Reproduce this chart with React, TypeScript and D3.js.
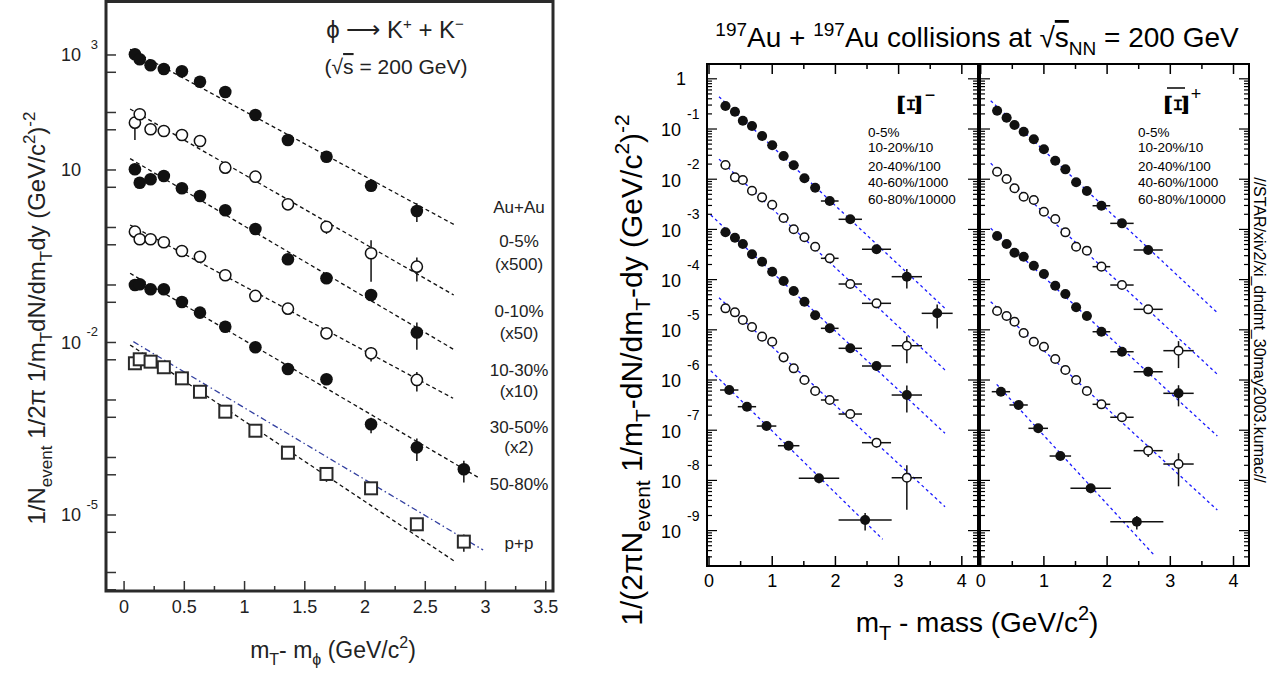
import React from "react";
import * as d3 from "d3";

const FONT = "'Liberation Sans', Arial, Helvetica, sans-serif";

// ---------------- phi -> K+ + K- (left figure) ----------------
const phiMtX = [0.09, 0.13, 0.22, 0.33, 0.48, 0.63, 0.84, 1.09, 1.36, 1.68, 2.05, 2.43, 2.82];
const phiAuAu0to5 = [1028, 841, 662, 571, 521, 343, 227, 90.6, 33.3, 17.0, 5.33, 1.94];
const phiAuAu0to10 = [66.5, 93.1, 51.1, 47.6, 40.6, 31.9, 10.96, 7.64, 2.53, 1.03, 0.356, 0.208];
const phiAuAu10to30 = [10.3, 6.01, 6.88, 7.87, 4.81, 3.53, 1.99, 0.942, 0.28, 0.131, 0.067, 0.0149];
const phiAuAu30to50 = [0.845, 0.624, 0.624, 0.553, 0.39, 0.31, 0.1475, 0.0644, 0.0387, 0.01445, 0.00649, 0.00223];
const phiAuAu50to80 = [0.1, 0.1028, 0.0841, 0.0841, 0.0506, 0.033, 0.0188, 0.00826, 0.00346, 0.00229, 0.000378, 0.00015, 0.0000624];
const phiPP = [0.00435, 0.0051, 0.00464, 0.00371, 0.00238, 0.00139, 0.000626, 0.000292, 0.000121, 0.0000517, 0.0000291, 0.00000689, 0.00000344];

const phiErr0to5 = [0.05, 0.05, 0.05, 0.05, 0.05, 0.05, 0.06, 0.08, 0.1, 0.15, 0.2, 0.36];
const phiErr0to10 = [0.5, 0.15, 0.08, 0.08, 0.08, 0.08, 0.1, 0.12, 0.15, 0.25, 0.68, 0.45];
const phiErr10to30 = [0.1, 0.1, 0.08, 0.08, 0.08, 0.08, 0.1, 0.1, 0.15, 0.15, 0.2, 0.5];
const phiErr30to50 = [0.1, 0.08, 0.08, 0.08, 0.08, 0.1, 0.1, 0.12, 0.15, 0.2, 0.28, 0.37];
const phiErr50to80 = [0.1, 0.1, 0.1, 0.1, 0.1, 0.1, 0.1, 0.12, 0.15, 0.2, 0.3, 0.42, 0.41];
const phiErrPP = [0.05, 0.05, 0.05, 0.05, 0.05, 0.05, 0.06, 0.08, 0.1, 0.27, 0.1, 0.15, 0.33];

// exponential fits: [x start, x end], [value start, value end]
const phiFitX = [[0.05, 2.745], [0.05, 2.736], [0.05, 2.753], [0.05, 2.731], [0.05, 2.952], [0.05, 2.736]];
const phiFitY = [[1256, 1.104], [115.1, 0.067], [15.74, 0.00721], [1.104, 0.00107], [0.1596, 4.345e-5], [0.00906, 1.603e-6]];
const phiPPFitX = [0.077, 2.98];
const phiPPFitY = [0.01033, 2.46e-6];

const phiXTicks = [0, 0.5, 1, 1.5, 2, 2.5, 3, 3.5];
const phiYLabelExp = [3, 1, -2, -5];
const phiSideLabels = ["Au+Au", "0-5%", "(x500)", "0-10%", "(x50)", "10-30%", "(x10)", "30-50%", "(x2)", "50-80%", "p+p"];

// ---------------- Xi spectra (right figure) ----------------
const xiMtX = [0.26, 0.41, 0.535, 0.68, 0.84, 1.0, 1.18, 1.34, 1.51, 1.68, 1.91, 2.235, 2.65, 3.13, 3.61];
const xiMtXErr = [0.075, 0.075, 0.075, 0.075, 0.075, 0.075, 0.075, 0.075, 0.075, 0.075, 0.14, 0.185, 0.23, 0.24, 0.245];
const xiPeriphX = [0.32, 0.6, 0.91, 1.26, 1.74, 2.47];
const xiPeriphXErr = [0.145, 0.145, 0.155, 0.17, 0.32, 0.42];

const xiM0to5 = [0.287, 0.221, 0.146, 0.1148, 0.0726, 0.0473, 0.029, 0.0189, 0.01042, 0.00678, 0.00368, 0.00159, 0.000402, 0.0001143, 0.0000213];
const xiM10to20 = [0.01919, 0.01091, 0.00964, 0.0059, 0.004355, 0.003105, 0.001687, 0.001005, 0.000697, 0.000452, 0.0002655, 8.17e-5, 3.37e-5, 4.82e-6];
const xiM20to40 = [0.000875, 0.000684, 0.000512, 0.000319, 0.0002275, 0.0001436, 9.38e-5, 5.93e-5, 3.63e-5, 1.945e-5, 1.07e-5, 4.28e-6, 1.9e-6, 5.02e-7];
const xiM40to60 = [2.68e-5, 2.23e-5, 1.57e-5, 1.14e-5, 7.3e-6, 5.79e-6, 2.83e-6, 1.71e-6, 1.0e-6, 6.04e-7, 4.0e-7, 2.1e-7, 5.64e-8, 1.13e-8];
const xiM60to80 = [6.32e-7, 2.94e-7, 1.21e-7, 4.91e-8, 1.1e-8, 1.63e-9];

const xiMErr0to5 = [0.05, 0.05, 0.05, 0.05, 0.05, 0.05, 0.05, 0.05, 0.05, 0.05, 0.06, 0.08, 0.15, 0.42, 0.5];
const xiMErr10to20 = [0.05, 0.05, 0.05, 0.05, 0.05, 0.05, 0.05, 0.05, 0.05, 0.05, 0.06, 0.1, 0.2, 0.55];
const xiMErr20to40 = [0.05, 0.05, 0.05, 0.05, 0.05, 0.05, 0.05, 0.05, 0.05, 0.05, 0.06, 0.1, 0.2, 0.55];
const xiMErr40to60 = [0.05, 0.05, 0.05, 0.05, 0.05, 0.05, 0.05, 0.05, 0.05, 0.05, 0.08, 0.12, 0.2, 0.77];
const xiMErr60to80 = [0.08, 0.08, 0.1, 0.12, 0.2, 0.38];

const xiP0to5 = [0.232, 0.168, 0.12, 0.0883, 0.0624, 0.0394, 0.0234, 0.0157, 0.00867, 0.00582, 0.00296, 0.00132, 0.000389];
const xiP10to20 = [0.0141, 0.0101, 0.00659, 0.00448, 0.00385, 0.00225, 0.00161, 0.000875, 0.000452, 0.000377, 0.000181, 7.8e-5, 2.56e-5, 3.84e-6];
const xiP20to40 = [7.4e-4, 5.12e-4, 3.44e-4, 2.86e-4, 1.89e-4, 1.29e-4, 7.55e-5, 5.16e-5, 2.81e-5, 1.88e-5, 9.16e-6, 3.66e-6, 1.46e-6, 5.43e-7];
const xiP40to60 = [2.37e-5, 1.88e-5, 1.45e-5, 8.63e-6, 5.79e-6, 4.6e-6, 2.62e-6, 1.58e-6, 1.0e-6, 6.04e-7, 3.28e-7, 1.81e-7, 3.91e-8, 2.12e-8];
const xiP60to80 = [5.85e-7, 3.18e-7, 1.09e-7, 3.06e-8, 6.97e-9, 1.5e-9];

const xiPErr0to5 = [0.05, 0.05, 0.05, 0.05, 0.05, 0.05, 0.05, 0.05, 0.05, 0.05, 0.06, 0.08, 0.15];
const xiPErr10to20 = [0.05, 0.05, 0.05, 0.05, 0.05, 0.05, 0.05, 0.05, 0.05, 0.05, 0.06, 0.1, 0.15, 0.55];
const xiPErr20to40 = [0.05, 0.05, 0.05, 0.05, 0.05, 0.05, 0.05, 0.05, 0.05, 0.05, 0.06, 0.1, 0.15, 0.45];
const xiPErr40to60 = [0.05, 0.05, 0.05, 0.05, 0.05, 0.05, 0.05, 0.05, 0.05, 0.05, 0.08, 0.12, 0.25, 0.64];
const xiPErr60to80 = [0.08, 0.08, 0.1, 0.12, 0.2, 0.3];

const xiMFitX = [[0.158, 3.734], [0.158, 3.734], [0.027, 3.734], [0.158, 3.734], [0.027, 2.748]];
const xiMFitY = [[0.44, 2.68e-5], [0.0251, 1.585e-6], [0.001936, 8.67e-8], [4.36e-5, 2.99e-9], [1.53e-6, 6.71e-10]];
const xiPFitX = [[0.158, 3.744], [0.158, 3.744], [0.158, 3.744], [0.158, 3.744], [0.253, 2.742]];
const xiPFitY = [[0.366, 2.19e-5], [0.0207, 1.3e-6], [0.00105, 7.66e-8], [3.63e-5, 2.57e-9], [8.2e-7, 3.27e-10]];

const xiLegend = ["0-5%", "10-20%/10", "20-40%/100", "40-60%/1000", "60-80%/10000"];
const xiXTicks = [0, 1, 2, 3, 4];
const xiYExp = [0, -1, -2, -3, -4, -5, -6, -7, -8, -9];

// ---------------- scales ----------------
const xPhi = d3.scaleLinear().domain([-0.15, 3.56]).range([106, 553]);
const yPhi = d3.scaleLog().domain([Math.pow(10, -6.322), Math.pow(10, 3.93)]).range([591, 1.5]);
const xXiL = d3.scaleLinear().domain([-0.032, 4.256]).range([707, 978]);
const xXiR = d3.scaleLinear().domain([-0.011, 4.245]).range([980, 1249]);
const yXi = d3.scaleLog().domain([Math.pow(10, -9.705), Math.pow(10, 0.295)]).range([566, 64]);

type Mk = "fill" | "open" | "square";

function Marker({ cx, cy, type, r }: { cx: number; cy: number; type: Mk; r: number }) {
  if (type === "square")
    return <rect x={cx - r} y={cy - r} width={2 * r} height={2 * r} fill="white" stroke="#2a2a2a" strokeWidth={2} />;
  if (type === "open") return <circle cx={cx} cy={cy} r={r - 0.7} fill="white" stroke="#111" strokeWidth={1.5} />;
  return <circle cx={cx} cy={cy} r={r} fill="#111" />;
}

function Series({ xs, ys, errs, xerrs, type, r, xs_, ys_ }: any) {
  return (
    <g>
      {ys.map((v: number, i: number) => {
        const cx = xs_(xs[i]);
        const cy = ys_(v);
        const e = errs ? errs[i] : 0;
        return (
          <g key={i}>
            {e > 0 && (
              <line x1={cx} x2={cx} y1={ys_(v * (1 + e))} y2={ys_(Math.max(v * (1 - e), 1e-12))} stroke="#111" strokeWidth={1.5} />
            )}
            {xerrs && (
              <line x1={xs_(xs[i] - xerrs[i])} x2={xs_(xs[i] + xerrs[i])} y1={cy} y2={cy} stroke="#111" strokeWidth={1.5} />
            )}
            <Marker cx={cx} cy={cy} type={type} r={r} />
          </g>
        );
      })}
    </g>
  );
}

function FitLine({ fx, fy, xs_, ys_, color, dash, w }: any) {
  return (
    <line x1={xs_(fx[0])} y1={ys_(fy[0])} x2={xs_(fx[1])} y2={ys_(fy[1])} stroke={color} strokeWidth={w} strokeDasharray={dash} />
  );
}

function XiPanel({ xs_ }: { xs_: any }) {
  const [x0, x1] = xs_.range();
  const y0 = 64, y1 = 566;
  const majorX = d3.range(0, 4.01, 1);
  const minorX = d3.range(0.5, 4.3, 1);
  const yTicks: { v: number; major: boolean }[] = [];
  for (let n = -10; n <= 0; n++) {
    for (let k = 1; k <= 9; k++) {
      const v = k * Math.pow(10, n);
      const [lo, hi] = yXi.domain();
      if (v >= lo && v <= hi) yTicks.push({ v, major: k === 1 });
    }
  }
  return (
    <g>
      {majorX.map((t) => (
        <g key={"mx" + t}>
          <line x1={xs_(t)} x2={xs_(t)} y1={y1} y2={y1 - 10} stroke="#000" strokeWidth={1.5} />
          <line x1={xs_(t)} x2={xs_(t)} y1={y0} y2={y0 + 10} stroke="#000" strokeWidth={1.5} />
        </g>
      ))}
      {minorX.filter((t) => xs_(t) < x1 - 2).map((t) => (
        <g key={"nx" + t}>
          <line x1={xs_(t)} x2={xs_(t)} y1={y1} y2={y1 - 5} stroke="#000" strokeWidth={1.5} />
          <line x1={xs_(t)} x2={xs_(t)} y1={y0} y2={y0 + 5} stroke="#000" strokeWidth={1.5} />
        </g>
      ))}
      {yTicks.map((t, i) => {
        const len = t.major ? 10 : 5;
        const y = yXi(t.v);
        return (
          <g key={"yt" + i}>
            <line x1={x0} x2={x0 + len} y1={y} y2={y} stroke="#000" strokeWidth={1.2} />
            <line x1={x1} x2={x1 - len} y1={y} y2={y} stroke="#000" strokeWidth={1.2} />
          </g>
        );
      })}
      {xiXTicks.map((t) => (
        <text key={"xl" + t} x={xs_(t)} y={587} textAnchor="middle" fontSize={18} fontFamily={FONT}>
          {t}
        </text>
      ))}
      <rect x={x0} y={y0} width={x1 - x0} height={y1 - y0} fill="none" stroke="#000" strokeWidth={2} />
    </g>
  );
}

export default function App() {
  const phiSeries: { v: number[]; e: number[]; t: Mk }[] = [
    { v: phiAuAu0to5, e: phiErr0to5, t: "fill" },
    { v: phiAuAu0to10, e: phiErr0to10, t: "open" },
    { v: phiAuAu10to30, e: phiErr10to30, t: "fill" },
    { v: phiAuAu30to50, e: phiErr30to50, t: "open" },
    { v: phiAuAu50to80, e: phiErr50to80, t: "fill" },
    { v: phiPP, e: phiErrPP, t: "square" },
  ];
  const xiMSeries = [
    { v: xiM0to5, e: xiMErr0to5, t: "fill", x: xiMtX, xe: xiMtXErr },
    { v: xiM10to20, e: xiMErr10to20, t: "open", x: xiMtX, xe: xiMtXErr },
    { v: xiM20to40, e: xiMErr20to40, t: "fill", x: xiMtX, xe: xiMtXErr },
    { v: xiM40to60, e: xiMErr40to60, t: "open", x: xiMtX, xe: xiMtXErr },
    { v: xiM60to80, e: xiMErr60to80, t: "fill", x: xiPeriphX, xe: xiPeriphXErr },
  ];
  const xiPSeries = [
    { v: xiP0to5, e: xiPErr0to5, t: "fill", x: xiMtX, xe: xiMtXErr },
    { v: xiP10to20, e: xiPErr10to20, t: "open", x: xiMtX, xe: xiMtXErr },
    { v: xiP20to40, e: xiPErr20to40, t: "fill", x: xiMtX, xe: xiMtXErr },
    { v: xiP40to60, e: xiPErr40to60, t: "open", x: xiMtX, xe: xiMtXErr },
    { v: xiP60to80, e: xiPErr60to80, t: "fill", x: xiPeriphX, xe: xiPeriphXErr },
  ];

  const phiMinorX = d3.range(0.25, 3.6, 0.5);
  const phiYTicks: number[] = [];
  for (let n = -6; n <= 3; n++) {
    phiYTicks.push(Math.pow(10, n));
    phiYTicks.push(5 * Math.pow(10, n - 1));
  }
  const phiSideY = [207, 241, 264, 311, 333, 370, 391, 427, 447, 484, 543];
  const legendY = [132, 147, 166, 182, 199];
  const XI_FONT = "'DejaVu Serif', 'Liberation Serif', serif";

  return (
    <svg width={1278} height={677} style={{ position: "absolute", left: 0, top: 0, background: "#fff" }} fontFamily={FONT}>
      <rect x={0} y={0} width={1278} height={677} fill="#fff" />

      {/* ================= LEFT FIGURE ================= */}
      <g>
        {phiMinorX.map((t) => (
          <line key={"pmx" + t} x1={xPhi(t)} x2={xPhi(t)} y1={591} y2={586} stroke="#333" strokeWidth={1.5} />
        ))}
        {phiXTicks.map((t) => (
          <g key={"px" + t}>
            <line x1={xPhi(t)} x2={xPhi(t)} y1={591} y2={581} stroke="#333" strokeWidth={1.5} />
            <text x={xPhi(t)} y={613} textAnchor="middle" fontSize={18} fill="#222">
              {t}
            </text>
          </g>
        ))}
        {phiYTicks
          .filter((v) => v > yPhi.domain()[0] && v < yPhi.domain()[1])
          .map((v, i) => (
            <line key={"py" + i} x1={106} x2={116} y1={yPhi(v)} y2={yPhi(v)} stroke="#333" strokeWidth={1.5} />
          ))}
        {phiYLabelExp.map((e) => (
          <g key={"pyl" + e}>
            <text x={81} y={yPhi(Math.pow(10, e))} dy="0.36em" textAnchor="end" fontSize={18} fill="#222">
              10
            </text>
            {e !== 1 && (
              <text x={98} y={yPhi(Math.pow(10, e)) - 11} dy="0.36em" textAnchor="end" fontSize={13} fill="#222">
                {e}
              </text>
            )}
          </g>
        ))}

        {phiFitX.map((fx, i) => (
          <FitLine key={"pf" + i} fx={fx} fy={phiFitY[i]} xs_={xPhi} ys_={yPhi} color="#111" dash="4,3" w={1.3} />
        ))}
        <FitLine fx={phiPPFitX} fy={phiPPFitY} xs_={xPhi} ys_={yPhi} color="#3340a0" dash="6,3,1.5,3" w={1.3} />

        {phiSeries.map((s, i) => (
          <Series key={"ps" + i} xs={phiMtX} ys={s.v} errs={s.e} type={s.t} r={s.t === "square" ? 6 : 6.3} xs_={xPhi} ys_={yPhi} />
        ))}

        <rect x={106} y={1.5} width={447} height={589.5} fill="none" stroke="#2a2a2a" strokeWidth={3} />

        <text x={395} y={38} textAnchor="middle" fontSize={24} fill="#222">
          ϕ ⟶ K<tspan dy={-9} fontSize={15}>+</tspan>
          <tspan dy={9}> + K</tspan>
          <tspan dy={-9} fontSize={15}>−</tspan>
        </text>
        <text x={396} y={74} textAnchor="middle" fontSize={21} fill="#222">
          (√<tspan style={{ textDecoration: "overline" }}>s</tspan> = 200 GeV)
        </text>

        {phiSideLabels.map((l, i) => (
          <text key={"sl" + i} x={519} y={phiSideY[i]} dy="0.36em" textAnchor="middle" fontSize={17} fill="#222">
            {l}
          </text>
        ))}

        <text x={333} y={658} textAnchor="middle" fontSize={23} fill="#222">
          m<tspan dy={7} fontSize={16}>T</tspan>
          <tspan dy={-7}>- m</tspan>
          <tspan dy={7} fontSize={16}>ϕ</tspan>
          <tspan dy={-7}> (GeV/c</tspan>
          <tspan dy={-10} fontSize={16}>2</tspan>
          <tspan dy={10}>)</tspan>
        </text>
        <text transform="translate(45,318) rotate(-90)" textAnchor="middle" fontSize={24} fill="#222">
          1/N<tspan dy={7} fontSize={17}>event</tspan>
          <tspan dy={-7}> 1/2π 1/m</tspan>
          <tspan dy={7} fontSize={17}>T</tspan>
          <tspan dy={-7}>dN/dm</tspan>
          <tspan dy={7} fontSize={17}>T</tspan>
          <tspan dy={-7}>dy (GeV/c</tspan>
          <tspan dy={-10} fontSize={17}>2</tspan>
          <tspan dy={10}>)</tspan>
          <tspan dy={-10} fontSize={17}>-2</tspan>
        </text>
      </g>

      {/* ================= RIGHT FIGURE ================= */}
      <g>
        <text x={977} y={47} textAnchor="middle" fontSize={28}>
          <tspan dy={-11} fontSize={19}>197</tspan>
          <tspan dy={11}>Au + </tspan>
          <tspan dy={-11} fontSize={19}>197</tspan>
          <tspan dy={11}>Au collisions at √</tspan>
          <tspan style={{ textDecoration: "overline" }}>s</tspan>
          <tspan dy={8} fontSize={19}>NN</tspan>
          <tspan dy={-8}> = 200 GeV</tspan>
        </text>

        {xiYExp.map((e) => (
          <g key={"xy" + e}>
            {e === 0 ? (
              <text x={686} y={yXi(1)} dy="0.36em" textAnchor="end" fontSize={18}>
                1
              </text>
            ) : (
              <>
                <text x={681} y={yXi(Math.pow(10, e)) + 1} dy="0.36em" textAnchor="end" fontSize={18}>
                  10
                </text>
                <text x={687} y={yXi(Math.pow(10, e)) - 15} dy="0.36em" textAnchor="start" fontSize={14}>
                  {e}
                </text>
              </>
            )}
          </g>
        ))}

        {xiMFitX.map((fx, i) => (
          <FitLine key={"mf" + i} fx={fx} fy={xiMFitY[i]} xs_={xXiL} ys_={yXi} color="#1a1aff" dash="3,3" w={1.3} />
        ))}
        {xiPFitX.map((fx, i) => (
          <FitLine key={"pf2" + i} fx={fx} fy={xiPFitY[i]} xs_={xXiR} ys_={yXi} color="#1a1aff" dash="3,3" w={1.3} />
        ))}

        {xiMSeries.map((s, i) => (
          <Series key={"ms" + i} xs={s.x} ys={s.v} errs={s.e} xerrs={s.xe} type={s.t} r={5} xs_={xXiL} ys_={yXi} />
        ))}
        {xiPSeries.map((s, i) => (
          <Series key={"pps" + i} xs={s.x} ys={s.v} errs={s.e} xerrs={s.xe} type={s.t} r={5} xs_={xXiR} ys_={yXi} />
        ))}

        <XiPanel xs_={xXiL} />
        <XiPanel xs_={xXiR} />

        {/* particle labels */}
        <g transform="translate(909,105) rotate(90)">
          <text x={0} y={0} textAnchor="middle" dominantBaseline="central" fontSize={31} fontWeight="bold" fontFamily={XI_FONT}>
            Ξ
          </text>
        </g>
        <text x={930} y={95} dy="0.35em" textAnchor="middle" fontSize={18}>
          −
        </text>
        <g transform="translate(1176,105) rotate(90)">
          <text x={0} y={0} textAnchor="middle" dominantBaseline="central" fontSize={31} fontWeight="bold" fontFamily={XI_FONT}>
            Ξ
          </text>
        </g>
        <line x1={1167} x2={1185} y1={88} y2={88} stroke="#000" strokeWidth={1.5} />
        <text x={1196} y={94} dy="0.35em" textAnchor="middle" fontSize={18}>
          +
        </text>

        {xiLegend.map((l, i) => (
          <g key={"lg" + i}>
            <text x={868} y={legendY[i]} dy="0.36em" fontSize={13.5}>
              {l}
            </text>
            <text x={1138} y={legendY[i]} dy="0.36em" fontSize={13.5}>
              {l}
            </text>
          </g>
        ))}

        <text x={977} y={632} textAnchor="middle" fontSize={28}>
          m<tspan dy={8} fontSize={20}>T</tspan>
          <tspan dy={-8}> - mass (GeV/c</tspan>
          <tspan dy={-12} fontSize={20}>2</tspan>
          <tspan dy={12}>)</tspan>
        </text>
        <text transform="translate(642,370) rotate(-90)" textAnchor="middle" fontSize={30}>
          1/(2πN<tspan dy={8} fontSize={21}>event</tspan>
          <tspan dy={-8}> 1/m</tspan>
          <tspan dy={8} fontSize={21}>T</tspan>
          <tspan dy={-8}>-dN/dm</tspan>
          <tspan dy={8} fontSize={21}>T</tspan>
          <tspan dy={-8}>-dy (GeV/c</tspan>
          <tspan dy={-13} fontSize={21}>2</tspan>
          <tspan dy={13}>)</tspan>
          <tspan dy={-13} fontSize={21}>-2</tspan>
        </text>
        <text transform="translate(1254,330) rotate(90)" textAnchor="middle" fontSize={16}>
          //STAR/xiv2/xi_dndmt_30may2003.kumac//
        </text>
      </g>
    </svg>
  );
}
